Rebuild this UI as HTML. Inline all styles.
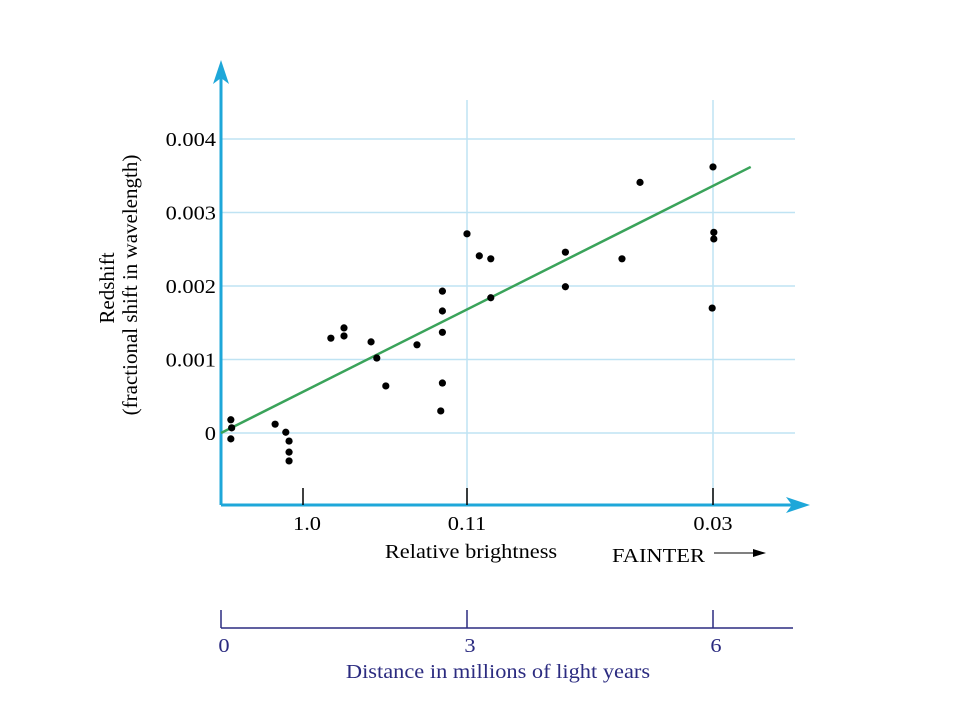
<!DOCTYPE html>
<html><head><meta charset="utf-8"><style>
body{margin:0;background:#fff}
svg text{font-family:"Liberation Serif",serif}
</style></head><body>
<svg width="960" height="720" viewBox="0 0 960 720">
<g id="grid"></g>
<g id="axes">
<line x1="221" y1="505" x2="221" y2="75" stroke="#1ea7d9" stroke-width="3"/>
<polygon points="221,60 213,84 221,78 229,84" fill="#1ea7d9"/>
<line x1="221" y1="505" x2="795" y2="505" stroke="#1ea7d9" stroke-width="3"/>
<polygon points="810,505 786,497 792,505 786,513" fill="#1ea7d9"/>
</g>
<g id="yticks"></g>
<g id="xticks"></g>
<text class="rot" transform="translate(114,288) rotate(-90)" text-anchor="middle" font-size="21">Redshift</text>
<text class="rot" transform="translate(137,285) rotate(-90)" text-anchor="middle" font-size="21">(fractional shift in wavelength)</text>
<text x="471" y="558" text-anchor="middle" font-size="20">Relative brightness</text>
<text x="612" y="562" font-size="20">FAINTER</text>
<line x1="714" y1="553" x2="756" y2="553" stroke="#000" stroke-width="1"/>
<polygon points="766,553 753,549 753,557" fill="#000"/>
<line id="fit" stroke="#3aa35a" stroke-width="2.5"/>
<g id="pts"></g>
<g id="dist">
<line x1="221" y1="628" x2="793" y2="628" stroke="#2b2b80" stroke-width="1.5"/>
</g>
<text x="498" y="678" text-anchor="middle" font-size="20" fill="#2b2b80">Distance in millions of light years</text>
</svg>
<script>
const distances=[0.12,0.13,0.12,0.66,0.79,0.83,0.83,0.83,1.34,1.50,1.50,1.83,1.90,2.01,2.39,2.70,2.70,2.70,2.70,2.68,3.00,3.15,3.29,3.29,4.20,4.20,4.89,5.11,6.00,6.01,6.01,5.99];
const redshifts=[0.00018,0.00007,-0.00008,0.00012,0.00001,-0.00011,-0.00026,-0.00038,0.00129,0.00143,0.00132,0.00124,0.00102,0.00064,0.00120,0.00193,0.00166,0.00137,0.00068,0.00030,0.00271,0.00241,0.00237,0.00184,0.00246,0.00199,0.00237,0.00341,0.00362,0.00273,0.00264,0.00170];
const yTicks=[0,0.001,0.002,0.003,0.004];
const yTickLabels=["0","0.001","0.002","0.003","0.004"];
const brightTicks=[1,3,6];
const brightLabels=["1.0","0.11","0.03"];
const distTicks=[0,3,6];
const distLabels=["0","3","6"];
const fitStart=[0,0];
const fitEnd=[6.46,0.00362];
const NS="http://www.w3.org/2000/svg";
const X=d=>221+d*82;
const Y=v=>433-v*73500;
function mk(t,a,p){const e=document.createElementNS(NS,t);for(const k in a)e.setAttribute(k,a[k]);p.appendChild(e);return e;}
const grid=document.getElementById('grid'),yt=document.getElementById('yticks'),xt=document.getElementById('xticks'),pts=document.getElementById('pts'),dist=document.getElementById('dist');
yTicks.forEach((v,i)=>{
 const l=mk('line',{x1:221,x2:795,y1:Y(v),y2:Y(v),stroke:'#bfe3f3','stroke-width':1.5},grid);
 
 
 const t=mk('text',{x:216,y:Y(v)+7,'text-anchor':'end','font-size':20},yt);
 t.textContent=yTickLabels[i];
 
 
});
brightTicks.forEach((d,i)=>{
 if(d>1){const g=mk('line',{x1:X(d),x2:X(d),y1:100,y2:505,stroke:'#bfe3f3','stroke-width':1.5},grid);
 
 }
 const tk=mk('line',{x1:X(d),x2:X(d),y1:488,y2:505,stroke:'#000','stroke-width':1.5},xt);
 
 
 const t=mk('text',{x:X(d),y:530,'text-anchor':'middle','font-size':20},xt);
 t.textContent=brightLabels[i];
 
 
});
xt.children[0].setAttribute('x1',303);xt.children[0].setAttribute('x2',303);xt.children[1].setAttribute('x',307);
distTicks.forEach((d,i)=>{
 const tk=mk('line',{x1:X(d),x2:X(d),y1:610,y2:628,stroke:'#2b2b80','stroke-width':1.5},dist);
 
 
 const t=mk('text',{x:X(d)+3,y:652,'text-anchor':'middle','font-size':20,fill:'#2b2b80'},dist);
 t.textContent=distLabels[i];
 
 
});
const f=document.getElementById('fit');
f.setAttribute('x1',X(fitStart[0]));f.setAttribute('y1',Y(fitStart[1]));
f.setAttribute('x2',X(fitEnd[0]));f.setAttribute('y2',Y(fitEnd[1]));
distances.forEach((d,i)=>{
 const c=mk('circle',{cx:X(d),cy:Y(redshifts[i]),r:3.6,fill:'#000'},pts);
 
 
});
document.querySelectorAll('svg text').forEach(t=>{
 if(t.classList.contains('rot'))return;
 const w=t.getComputedTextLength();
 t.setAttribute('textLength',(w*1.12).toFixed(1));
 t.setAttribute('lengthAdjust','spacingAndGlyphs');
});
</script>
</body></html>
